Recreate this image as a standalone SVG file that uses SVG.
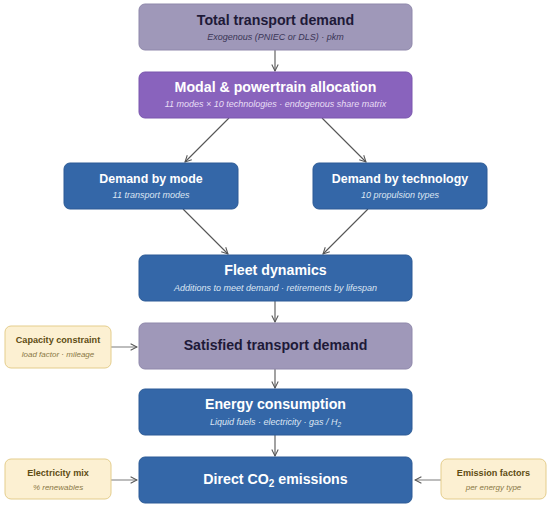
<svg xmlns="http://www.w3.org/2000/svg" width="550" height="507" viewBox="0 0 550 507">
<defs>
<marker id="arr" viewBox="0 0 10 10" refX="9" refY="5" markerWidth="8" markerHeight="8" markerUnits="userSpaceOnUse" orient="auto">
<path d="M1,1 L9,5 L1,9" fill="none" stroke="#555" stroke-width="1.3"/>
</marker>
<style>
text{font-family:"Liberation Sans",Arial,Helvetica,sans-serif;text-anchor:middle}
.grey{fill:#9f98b9;stroke:#8f88ab;stroke-width:1}
.purple{fill:#8963bd;stroke:#7a56ae;stroke-width:1}
.blue{fill:#3467a8;stroke:#2c5b96;stroke-width:1}
.cream{fill:#fcf0d2;stroke:#e4cd8c;stroke-width:1}
.t1{font-size:14.2px;font-weight:bold;fill:#fff}
.t1d{font-size:14.2px;font-weight:bold;fill:#1e1a38}
.t2{font-size:12.4px;font-weight:bold;fill:#fff}
.s{font-size:9px;font-style:italic;fill:#dde6f3}
.sd{font-size:9px;font-style:italic;fill:#3a3556}
.sp{font-size:9px;font-style:italic;fill:#e8def5}
.ct{font-size:9.1px;font-weight:bold;fill:#5e4c12}
.cs{font-size:8px;font-style:italic;fill:#8a7845}
.c line{stroke:#555;stroke-width:1.1;marker-end:url(#arr)}
.c2 line{stroke:#888;stroke-width:1.1;marker-end:url(#arr)}
</style>
</defs>
<g id="connectors">
<g class="c">
<line x1="275" y1="50" x2="275" y2="71"/>
<line x1="229" y1="118" x2="185" y2="162"/>
<line x1="322" y1="118" x2="366" y2="162"/>
<line x1="183" y1="209" x2="228" y2="254"/>
<line x1="368" y1="209" x2="323" y2="254"/>
<line x1="275" y1="301" x2="275" y2="322"/>
<line x1="275" y1="369" x2="275" y2="388"/>
<line x1="275" y1="435" x2="275" y2="456"/>
</g>
<g class="c2">
<line x1="111" y1="347" x2="137" y2="347"/>
<line x1="111" y1="480" x2="137" y2="480"/>
<line x1="441" y1="480" x2="415" y2="480"/>
</g>
</g>
<g id="total">
<rect class="grey" x="139" y="4" width="273" height="46" rx="6"/>
<text class="t1d" x="275.5" y="25">Total transport demand</text>
<text class="sd" x="275.5" y="40">Exogenous (PNIEC or DLS) · pkm</text>
</g>
<g id="modal">
<rect class="purple" x="139" y="72" width="273" height="46" rx="6"/>
<text class="t1" x="275.5" y="92">Modal &amp; powertrain allocation</text>
<text class="sp" x="275.5" y="107">11 modes × 10 technologies · endogenous share matrix</text>
</g>
<g id="bymode">
<rect class="blue" x="64" y="163" width="174" height="46" rx="6"/>
<text class="t2" x="151" y="183">Demand by mode</text>
<text class="s" x="151" y="198">11 transport modes</text>
</g>
<g id="bytech">
<rect class="blue" x="313" y="163" width="174" height="46" rx="6"/>
<text class="t2" x="400" y="183">Demand by technology</text>
<text class="s" x="400" y="198">10 propulsion types</text>
</g>
<g id="fleet">
<rect class="blue" x="139" y="255" width="273" height="46" rx="6"/>
<text class="t1" x="275.5" y="275">Fleet dynamics</text>
<text class="s" x="275.5" y="291">Additions to meet demand · retirements by lifespan</text>
</g>
<g id="satisfied">
<rect class="grey" x="139" y="323" width="273" height="46" rx="6"/>
<text class="t1d" x="275.5" y="350">Satisfied transport demand</text>
</g>
<g id="capacity">
<rect class="cream" x="5" y="326" width="106" height="42" rx="6"/>
<text class="ct" x="58" y="343">Capacity constraint</text>
<text class="cs" x="58" y="357">load factor · mileage</text>
</g>
<g id="energy">
<rect class="blue" x="139" y="389" width="273" height="46" rx="6"/>
<text class="t1" x="275.5" y="409">Energy consumption</text>
<text class="s" x="275.5" y="425">Liquid fuels · electricity · gas / H<tspan font-size="6.5" dy="2">2</tspan></text>
</g>
<g id="co2">
<rect class="blue" x="139" y="457" width="273" height="46" rx="6"/>
<text class="t1" x="275.5" y="484">Direct CO<tspan font-size="10" dy="3">2</tspan><tspan dy="-3"> emissions</tspan></text>
</g>
<g id="elecmix">
<rect class="cream" x="5" y="459" width="106" height="40" rx="6"/>
<text class="ct" x="58" y="476">Electricity mix</text>
<text class="cs" x="58" y="490">% renewables</text>
</g>
<g id="emfactors">
<rect class="cream" x="441" y="459" width="105" height="40" rx="6"/>
<text class="ct" x="493.5" y="476">Emission factors</text>
<text class="cs" x="493.5" y="490">per energy type</text>
</g>
</svg>
